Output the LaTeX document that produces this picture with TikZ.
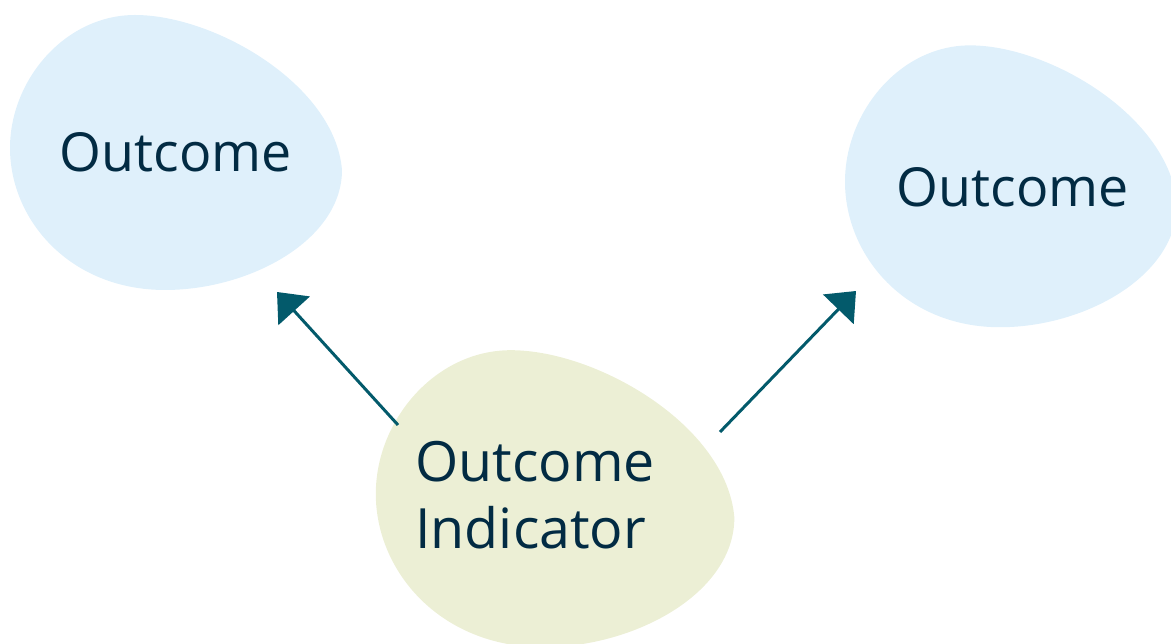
\documentclass[tikz,border=0pt]{standalone}
\usepackage{fontspec}
\setmainfont{Open Sans}
\usetikzlibrary{arrows.meta}
\definecolor{outcomeblue}{HTML}{DFF0FB}
\definecolor{indicatorgreen}{HTML}{ECEFD5}
\definecolor{linkteal}{HTML}{035A6B}
\definecolor{labelnavy}{HTML}{022B43}
\tikzset{>={Triangle[length=14.5pt,width=24pt]}}
\tikzset{
  blob/.pic={
    \fill[#1] (10,148) .. controls (10,80) and (65,15) .. (135,15)
      .. controls (215,15) and (335,85) .. (342,170)
      .. controls (342,240) and (250,290) .. (165,290)
      .. controls (70,290) and (10,220) .. (10,148) -- cycle;
  },
  lbl/.style={font=\fontsize{30.6}{38}\selectfont, text=labelnavy, inner sep=0pt},
  biglbl/.style={lbl, font=\fontsize{31.6}{38}\selectfont},
  link/.style={->, draw=linkteal, fill=linkteal, line width=1.7pt}
}

\begin{document}
\begin{tikzpicture}[x=0.02cm, y=-0.02cm]
  \useasboundingbox (0,0) rectangle (1171,644);

  % Blobs
  \pic at (0,0) {blob=outcomeblue};
  \pic[xscale=1.0, yscale=1.025] at (835,30) {blob=outcomeblue};
  \pic[scale=1.08] at (365,334) {blob=indicatorgreen};

  % Nodes
  \node[lbl] (outL) at (176,152) {Outcome};
  \node[lbl] (outR) at (1013,187) {Outcome};
  \node[biglbl, anchor=west, align=left] (ind) at (415,495) {Outcome\\Indicator};

  % Edges
  \coordinate (indL) at (398,425);
  \coordinate (indR) at (720,432);
  \coordinate (tipL) at (277,292);
  \coordinate (tipR) at (856,291);
  \draw[link] (indL) -- (tipL);
  \draw[link] (indR) -- (tipR);

\end{tikzpicture}
\end{document}
